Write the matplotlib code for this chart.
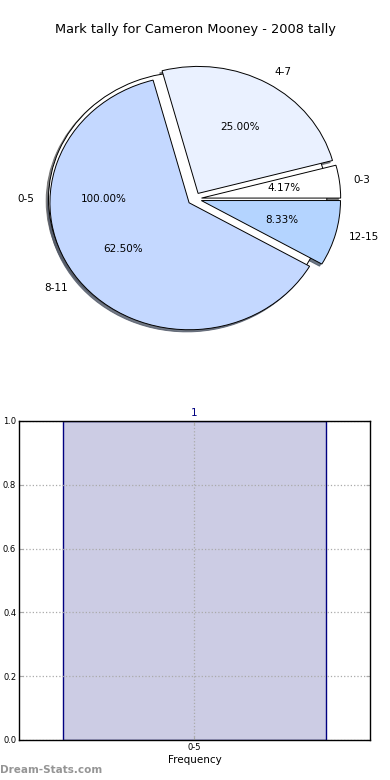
import matplotlib
matplotlib.use("Agg")
import matplotlib.pyplot as plt

plt.rcParams['font.family'] = 'DejaVu Sans'

# ── Data ──
title = "Mark tally for Cameron Mooney - 2008 tally"
base_labels = ["0-5"]
base_counts = [1]
pie_labels = ["0-3", "4-7", "8-11", "12-15"]
pie_counts = [1, 6, 15, 2]
pie_colors = ["#ffffff", "#eaf1ff", "#c4d8ff", "#b4d4ff"]

bar_labels = ["0-5"]
bar_values = [1]

fig = plt.figure(figsize=(3.9, 7.8), dpi=100)

# ── Pie (two pies drawn on the same axes, as in the original) ──
ax1 = fig.add_axes([0.053, 0.5415, 0.892, 0.407])
wedge_kw = dict(edgecolor='black', linewidth=0.7)
shadow_kw = dict(ox=-0.012, oy=-0.012, shade=0.6, alpha=0.8)
ax1.pie(base_counts, labels=base_labels, autopct='%.2f%%', explode=[0.05],
        colors=["#ffffff"], shadow=shadow_kw, wedgeprops=wedge_kw,
        textprops=dict(fontsize=7.5))
ax1.pie(pie_counts, labels=pie_labels, autopct='%.2f%%', explode=[0.05] * 4,
        colors=pie_colors, shadow=shadow_kw, wedgeprops=wedge_kw,
        textprops=dict(fontsize=7.5))
ax1.set_aspect('auto')
ax1.set_xlim(-1.25, 1.25)
ax1.set_ylim(-1.25, 1.25)
fig.text(0.5, 1 - 30 / 780, title, ha='center', va='center', fontsize=9.3)

# ── Bar ──
ax2 = fig.add_axes([0.0487, 0.0513, 0.9, 0.409])
x = list(range(len(bar_labels)))
bars = ax2.bar(x, bar_values, width=0.75, color="#ccccE4", edgecolor="#000080", linewidth=1.0)
for xi, v in zip(x, bar_values):
    ax2.text(xi, v + 0.01, str(v), ha='center', va='bottom', color="#000080", fontsize=7.5)
ax2.set_xlim(-0.5, 0.5)
ax2.set_ylim(0, 1.0)
ax2.set_xticks(x)
ax2.set_xticklabels(bar_labels)
ax2.set_yticks([0.0, 0.2, 0.4, 0.6, 0.8, 1.0])
ax2.set_yticklabels(["0.0", "0.2", "0.4", "0.6", "0.8", "1.0"])
ax2.tick_params(axis='both', labelsize=6, direction='in', color='#aaaaaa', length=3,
                right=True, top=True, pad=2)
ax2.grid(True, color='#aaaaaa', linestyle=':', linewidth=0.9)
ax2.set_axisbelow(False)
ax2.set_xlabel("Frequency", fontsize=7.5, labelpad=2)
for s in ax2.spines.values():
    s.set_linewidth(1.0)
    s.set_zorder(5)

fig.text(0.0, 1 - 770 / 780, "Dream-Stats.com", ha='left', va='center', fontsize=7.5,
         color='#959595', fontweight='bold')

fig.savefig("out.png", dpi=100)
